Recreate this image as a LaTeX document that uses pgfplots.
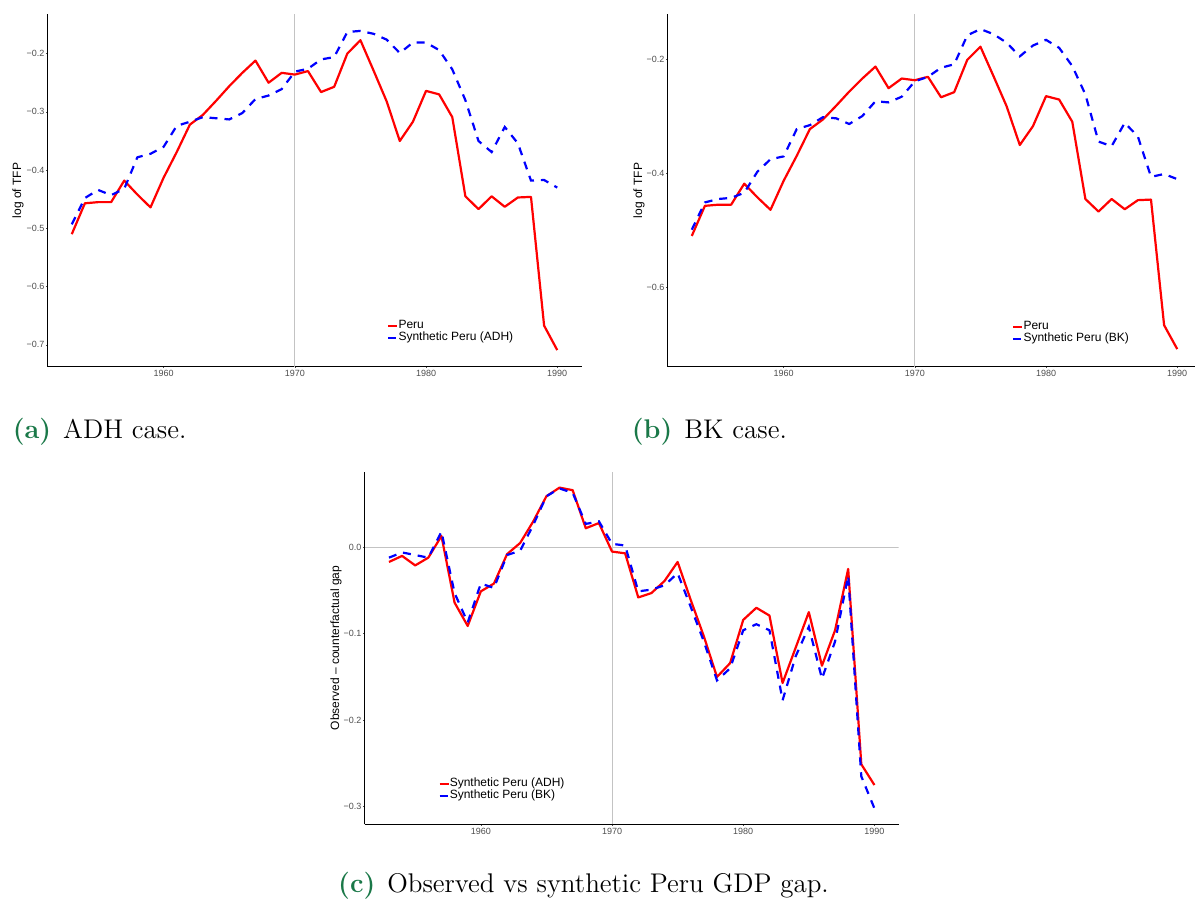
\documentclass[border=0pt]{standalone}
\usepackage{fontspec}
\newfontfamily\plotfont{Liberation Sans}
\usepackage{graphicx}
\usepackage{pgfplots}
\pgfplotsset{compat=1.18}
\definecolor{capgreen}{RGB}{26,120,72}
\definecolor{ticklab}{RGB}{77,77,77}
\definecolor{ggred}{RGB}{255,0,0}
\definecolor{ggblue}{RGB}{0,0,255}
\definecolor{vgray}{RGB}{195,195,195}

\pgfplotstableread{
year peru adh bk
1953 -0.510 -0.493 -0.499
1954 -0.457 -0.448 -0.451
1955 -0.455 -0.434 -0.445
1956 -0.455 -0.443 -0.443
1957 -0.418 -0.432 -0.434
1958 -0.442 -0.378 -0.397
1959 -0.464 -0.372 -0.375
1960 -0.413 -0.360 -0.370
1961 -0.369 -0.324 -0.322
1962 -0.322 -0.317 -0.315
1963 -0.305 -0.309 -0.301
1964 -0.281 -0.311 -0.303
1965 -0.256 -0.313 -0.313
1966 -0.233 -0.302 -0.299
1967 -0.212 -0.278 -0.273
1968 -0.250 -0.272 -0.275
1969 -0.233 -0.261 -0.265
1970 -0.236 -0.231 -0.238
1971 -0.230 -0.226 -0.230
1972 -0.266 -0.210 -0.214
1973 -0.257 -0.206 -0.208
1974 -0.200 -0.163 -0.157
1975 -0.177 -0.161 -0.146
1976 -0.229 -0.166 -0.155
1977 -0.282 -0.176 -0.170
1978 -0.350 -0.199 -0.194
1979 -0.317 -0.181 -0.175
1980 -0.264 -0.181 -0.165
1981 -0.270 -0.194 -0.179
1982 -0.309 -0.227 -0.211
1983 -0.445 -0.280 -0.261
1984 -0.467 -0.350 -0.344
1985 -0.445 -0.369 -0.352
1986 -0.463 -0.326 -0.311
1987 -0.447 -0.354 -0.335
1988 -0.446 -0.418 -0.406
1989 -0.667 -0.417 -0.401
1990 -0.709 -0.430 -0.410
}\tfpdata

\pgfplotstableread{
year gapadh gapbk
1953 -0.017 -0.012
1954 -0.010 -0.006
1955 -0.021 -0.009
1956 -0.012 -0.012
1957 0.013 0.018
1958 -0.064 -0.053
1959 -0.091 -0.087
1960 -0.051 -0.042
1961 -0.042 -0.047
1962 -0.008 -0.009
1963 0.005 -0.004
1964 0.030 0.026
1965 0.059 0.059
1966 0.069 0.068
1967 0.066 0.063
1968 0.022 0.027
1969 0.028 0.030
1970 -0.005 0.004
1971 -0.007 0.002
1972 -0.058 -0.051
1973 -0.053 -0.049
1974 -0.039 -0.044
1975 -0.017 -0.030
1976 -0.061 -0.069
1977 -0.103 -0.109
1978 -0.150 -0.154
1979 -0.134 -0.140
1980 -0.084 -0.096
1981 -0.070 -0.089
1982 -0.079 -0.096
1983 -0.157 -0.177
1984 -0.116 -0.126
1985 -0.075 -0.092
1986 -0.137 -0.152
1987 -0.096 -0.109
1988 -0.025 -0.033
1989 -0.251 -0.265
1990 -0.275 -0.302
}\gapdata

\pgfplotsset{
  ggpanel/.style={
    scale only axis, width=534pt,
    axis x line*=bottom, axis y line*=left,
    axis line style={black, line width=0.9pt, -},
    xmin=1951.15, xmax=1991.85,
    xtick={1960,1970,1980,1990}, xticklabels={1960,1970,1980,1990},
    tick align=outside, major tick length=1.5pt,
    tick style={color=ticklab, line width=0.6pt},
    ticklabel style={font=\plotfont\fontsize{9}{9}\selectfont, text=ticklab, inner sep=0pt},
    xticklabel style={yshift=-2pt},
    yticklabel style={xshift=-1.5pt},
    label style={font=\plotfont\fontsize{12}{12}\selectfont},
    legend style={draw=none, fill=none, inner sep=0pt, outer sep=0pt, anchor=north west,
      font=\plotfont\fontsize{12}{12}\selectfont, row sep=0pt,
      nodes={inner sep=0pt, text height=8.6pt, text depth=3.4pt}},
    legend cell align=left,
    legend image code/.code={\draw[#1] (0pt,0pt) -- (9pt,0pt);},
  },
  redline/.style={color=ggred, line width=2.2pt, line join=round},
  blueline/.style={color=ggblue, line width=2.2pt, dash pattern=on 8pt off 7pt},
}

\newcommand{\capt}[2]{\scalebox{2.25}{\fontsize{12}{14}\selectfont\textcolor{capgreen}{\bfseries (#1)}\hspace{5.3pt}#2}}

\begin{document}
\begin{tikzpicture}
\useasboundingbox (0pt,0pt) rectangle (1195pt,899pt);

% Panel (a)
\begin{axis}[ggpanel, at={(47.5pt,532.3pt)}, anchor=south west, height=352.4pt,
  ymin=-0.7375, ymax=-0.1325,
  ytick={-0.7,-0.6,-0.5,-0.4,-0.3,-0.2},
  yticklabels={−0.7,−0.6,−0.5,−0.4,−0.3,−0.2},
  ylabel={log of TFP},
  ylabel style={at={(rel axis cs:-0.0552,0.5)}, anchor=center},
  legend style={at={(axis cs:1977.05,-0.657)}}]
\addplot[forget plot, color=vgray, line width=1pt] coordinates {(1970,-0.7375) (1970,-0.1325)};
\addplot[redline] table[x=year, y=peru] {\tfpdata};
\addplot[blueline] table[x=year, y=adh] {\tfpdata};
\legend{Peru, Synthetic Peru (ADH)}
\end{axis}

% Panel (b)
\begin{axis}[ggpanel, at={(667.5pt,532.3pt)}, anchor=south west, height=352.4pt,
  ymin=-0.740, ymax=-0.120,
  ytick={-0.6,-0.4,-0.2},
  yticklabels={−0.6,−0.4,−0.2},
  ylabel={log of TFP},
  ylabel style={at={(rel axis cs:-0.0534,0.5)}, anchor=center},
  legend style={at={(axis cs:1977.43,-0.659)}}]
\addplot[forget plot, color=vgray, line width=1pt] coordinates {(1970,-0.740) (1970,-0.120)};
\addplot[redline] table[x=year, y=peru] {\tfpdata};
\addplot[blueline] table[x=year, y=bk] {\tfpdata};
\legend{Peru, Synthetic Peru (BK)}
\end{axis}

% Panel (c)
\begin{axis}[ggpanel, at={(364.7pt,74.7pt)}, anchor=south west, height=352.6pt,
  ymin=-0.3204, ymax=0.0874,
  ytick={-0.3,-0.2,-0.1,0},
  yticklabels={−0.3,−0.2,−0.1,0.0},
  ylabel={Observed – counterfactual gap},
  ylabel style={at={(rel axis cs:-0.0537,0.5)}, anchor=center},
  legend style={at={(axis cs:1956.78,-0.2668)}}]
\addplot[forget plot, color=vgray, line width=1pt] coordinates {(1970,-0.3204) (1970,0.0874)};
\addplot[forget plot, color=vgray, line width=1.2pt] coordinates {(1951.15,0) (1991.85,0)};
\addplot[redline] table[x=year, y=gapadh] {\gapdata};
\addplot[blueline] table[x=year, y=gapbk] {\gapdata};
\legend{Synthetic Peru (ADH), Synthetic Peru (BK)}
\end{axis}

% Captions
\node[anchor=base west, inner sep=0pt] at (12.7pt,460.7pt) {\capt{a}{ADH case.}};
\node[anchor=base west, inner sep=0pt] at (631.7pt,460.7pt) {\capt{b}{BK case.}};
\node[anchor=base west, inner sep=0pt] at (338pt,6pt) {\capt{c}{Observed vs synthetic Peru GDP gap.}};
\end{tikzpicture}
\end{document}
